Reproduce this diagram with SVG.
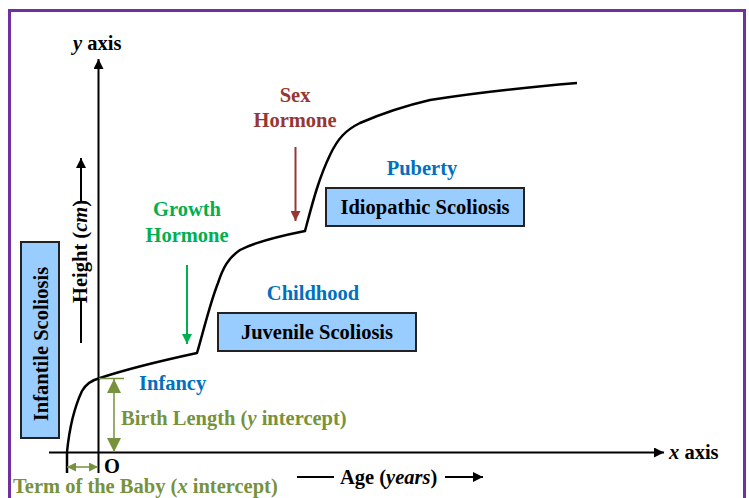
<svg xmlns="http://www.w3.org/2000/svg" width="749" height="498" viewBox="0 0 749 498">
<style>
text{font-family:"Liberation Serif","Times New Roman",serif;font-weight:bold;font-size:20.5px}
.box{fill:#99ccff;stroke:#222;stroke-width:2}
.blue{fill:#0070c0}
.green{fill:#00b050}
.brown{fill:#953735}
.olive{fill:#76923c}
.c{text-anchor:middle}
</style>
<defs>
<marker id="ak" viewBox="0 0 10 10" refX="10" refY="5" markerWidth="10" markerHeight="10" markerUnits="userSpaceOnUse" orient="auto-start-reverse"><path d="M0,0L10,5L0,10z" fill="#000"/></marker>
<marker id="ag" viewBox="0 0 10 10" refX="10" refY="5" markerWidth="10" markerHeight="10" markerUnits="userSpaceOnUse" orient="auto-start-reverse"><path d="M0,0L10,5L0,10z" fill="#00b050"/></marker>
<marker id="ab" viewBox="0 0 10 10" refX="10" refY="5" markerWidth="10" markerHeight="10" markerUnits="userSpaceOnUse" orient="auto-start-reverse"><path d="M0,0L10,5L0,10z" fill="#953735"/></marker>
<marker id="ao" viewBox="0 0 10 10" refX="10" refY="5" markerWidth="14" markerHeight="14" markerUnits="userSpaceOnUse" orient="auto-start-reverse"><path d="M0,0L10,5L0,10z" fill="#76923c"/></marker>
<marker id="as" viewBox="0 0 10 10" refX="10" refY="5" markerWidth="9" markerHeight="9" markerUnits="userSpaceOnUse" orient="auto-start-reverse"><path d="M0,0L10,5L0,10z" fill="#76923c"/></marker>
</defs>
<rect x="0" y="0" width="749" height="498" fill="#fff"/>
<rect x="9.5" y="10.5" width="735" height="500" fill="none" stroke="#7030a0" stroke-width="3"/>
<g id="connectors" fill="none">
<line x1="98.5" y1="473" x2="98.5" y2="59" stroke="#000" stroke-width="2" marker-end="url(#ak)"/>
<line x1="49" y1="452.5" x2="664" y2="452.5" stroke="#000" stroke-width="2" marker-end="url(#ak)"/>
<path d="M67,473 L67,452 C69,432 74,408 82,391 C86,384 92,380 100,378 C130,368 160,361 197,353 C203,333 210,303 218,283 C223,268 228,258 240,250 C255,242 280,236 305,231 C312,205 318,180 330,155 C338,138 346,130 360,123 C383,113 400,107 430,100 C480,92 530,87 577,83" stroke="#000" stroke-width="2.5"/>
<line x1="187" y1="265" x2="187" y2="344" stroke="#00b050" stroke-width="2" marker-end="url(#ag)"/>
<line x1="295.5" y1="147" x2="295.5" y2="221" stroke="#953735" stroke-width="2" marker-end="url(#ab)"/>
<line x1="99" y1="378.5" x2="124" y2="378.5" stroke="#76923c" stroke-width="1.5"/>
<line x1="114" y1="379" x2="114" y2="452" stroke="#76923c" stroke-width="1.5" marker-start="url(#ao)" marker-end="url(#ao)"/>
<line x1="67" y1="467" x2="98" y2="467" stroke="#76923c" stroke-width="1.5" marker-start="url(#as)" marker-end="url(#as)"/>
<line x1="81" y1="203" x2="81" y2="158" stroke="#000" stroke-width="2" marker-end="url(#ak)"/>
<line x1="81" y1="298" x2="81" y2="343" stroke="#000" stroke-width="2"/>
<line x1="297" y1="477" x2="334" y2="477" stroke="#000" stroke-width="2"/>
<line x1="445" y1="477" x2="483" y2="477" stroke="#000" stroke-width="2" marker-end="url(#ak)"/>
</g>
<g id="infantile"><rect class="box" x="21" y="242" width="38" height="196"/><text class="c" transform="translate(48,344) rotate(-90)">Infantile  Scoliosis</text></g>
<g id="juvenile"><rect class="box" x="218" y="313" width="198" height="38"/><text class="c" x="317" y="339">Juvenile Scoliosis</text></g>
<g id="idiopathic"><rect class="box" x="326" y="188" width="198" height="38"/><text class="c" x="425" y="214">Idiopathic Scoliosis</text></g>
<g id="labels">
<text x="73" y="50"><tspan font-style="italic">y</tspan> axis</text>
<text class="blue c" x="422" y="175">Puberty</text>
<text class="blue c" x="313" y="300">Childhood</text>
<text class="blue" x="139" y="390">Infancy</text>
<text class="green c" x="187" y="216">Growth</text>
<text class="green c" x="187" y="242">Hormone</text>
<text class="brown c" x="295" y="102">Sex</text>
<text class="brown c" x="295" y="127">Hormone</text>
<text class="olive" x="121" y="425">Birth Length (<tspan font-style="italic">y</tspan> intercept)</text>
<text class="olive" x="13" y="493">Term of the Baby (<tspan font-style="italic">x</tspan> intercept)</text>
<text x="104" y="473">O</text>
<text x="340" y="484">Age (<tspan font-style="italic">years</tspan>)</text>
<text x="669" y="459"><tspan font-style="italic">x</tspan> axis</text>
<text transform="translate(86.5,251.5) rotate(-90)" class="c" font-size="14">Height (<tspan font-style="italic">cm</tspan>)</text>
</g>
</svg>
